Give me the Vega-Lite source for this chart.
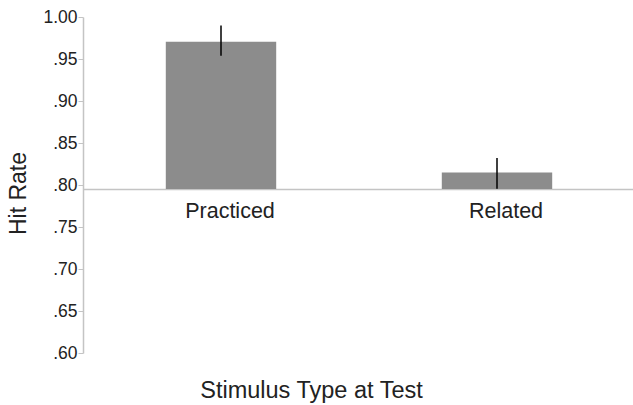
{
  "$schema": "https://vega.github.io/schema/vega-lite/v6.json",
  "width": 552,
  "height": 336,
  "autosize": {"type": "none"},
  "padding": {"left": 83, "top": 17, "right": 0, "bottom": 52},
  "background": "white",
  "config": {
    "view": {"stroke": null},
    "font": "Liberation Sans"
  },
  "data": {
    "values": [
      {"type": "Practiced", "rate": 0.9705, "lo": 0.954, "hi": 0.990},
      {"type": "Related", "rate": 0.815, "lo": 0.7955, "hi": 0.832}
    ]
  },
  "encoding": {
    "x": {
      "field": "type",
      "type": "nominal",
      "sort": null,
      "scale": {"paddingInner": 0.6, "paddingOuter": 0.3},
      "axis": {
        "title": "Stimulus Type at Test",
        "labelAngle": 0,
        "offset": -164,
        "domainColor": "#c4c4c4",
        "domainWidth": 1.5,
        "ticks": false,
        "labelFontSize": 21.5,
        "labelColor": "#222222",
        "labelPadding": 11,
        "labelOffset": 9,
        "titleFontSize": 23.5,
        "titleFontWeight": "normal",
        "titleColor": "#222222",
        "titlePadding": 157,
        "titleX": 228
      }
    }
  },
  "layer": [
    {
      "mark": {"type": "bar", "color": "#8c8c8c"},
      "encoding": {
        "y": {
          "field": "rate",
          "type": "quantitative",
          "scale": {"domain": [0.6, 1.0], "zero": false, "nice": false},
          "axis": {
            "title": "Hit Rate",
            "values": [0.6, 0.65, 0.7, 0.75, 0.8, 0.85, 0.9, 0.95, 1.0],
            "labelExpr": "datum.value >= 1 ? '1.00' : replace(format(datum.value, '.2f'), '0.', '.')",
            "grid": false,
            "domainColor": "#c4c4c4",
            "domainWidth": 1.5,
            "tickColor": "#c4c4c4",
            "tickSize": 5,
            "labelFontSize": 17.5,
            "labelColor": "#222222",
            "labelPadding": 1,
            "titleFontSize": 23,
            "titleFontWeight": "normal",
            "titleColor": "#222222",
            "titlePadding": 12,
            "titleY": 176
          }
        },
        "y2": {"datum": 0.7952}
      }
    },
    {
      "mark": {"type": "rule", "color": "black", "strokeWidth": 1.5},
      "encoding": {
        "y": {"field": "lo", "type": "quantitative"},
        "y2": {"field": "hi"}
      }
    }
  ]
}
